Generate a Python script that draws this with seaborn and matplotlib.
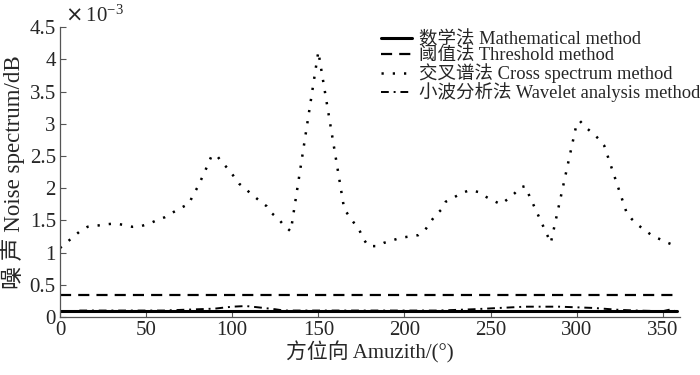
import seaborn as sns
import matplotlib.pyplot as plt
from matplotlib.ticker import FuncFormatter, MultipleLocator

# 数值单位: ×10^-3 dB
azimuth_math = [0, 90, 180, 270, 358]
noise_math = [0.095, 0.095, 0.095, 0.095, 0.095]

azimuth_thr = [0, 90, 180, 270, 358]
noise_thr = [0.34, 0.34, 0.34, 0.34, 0.34]

azimuth_cross = [0, 4, 8, 12, 16, 22, 27, 32, 37, 42, 47, 52, 56, 61, 66, 70, 75,
                 77, 80, 84, 88, 91, 94, 98, 101, 104, 108, 112, 116, 120, 123, 127,
                 130, 134, 150, 165, 168, 171, 174, 176, 179, 184, 188, 193, 198,
                 203, 208, 212, 215, 218, 222, 224, 229, 233, 238, 243, 247, 252,
                 256, 260, 264, 267, 270, 285, 300, 302, 305, 309, 313, 316, 329,
                 332, 336, 340, 344, 349, 353, 358]
noise_cross = [1.07, 1.16, 1.25, 1.34, 1.40, 1.42, 1.44, 1.45, 1.43, 1.40, 1.41,
               1.45, 1.50, 1.55, 1.63, 1.69, 1.76, 1.88, 2.02, 2.25, 2.50, 2.51,
               2.40, 2.29, 2.18, 2.07, 1.98, 1.89, 1.80, 1.72, 1.61, 1.52, 1.42,
               1.33, 4.12, 1.68, 1.56, 1.45, 1.34, 1.22, 1.10, 1.10, 1.15, 1.19,
               1.23, 1.25, 1.27, 1.35, 1.47, 1.58, 1.68, 1.79, 1.86, 1.92, 1.97,
               1.94, 1.87, 1.80, 1.75, 1.83, 1.92, 2.01, 2.03, 1.15, 3.00, 3.04,
               2.95, 2.86, 2.76, 2.66, 1.62, 1.52, 1.42, 1.34, 1.26, 1.20, 1.15,
               1.10]

azimuth_wav = [0, 5, 10, 20, 40, 60, 70, 80, 90, 100, 108, 115, 125, 130, 150,
               200, 220, 240, 255, 270, 290, 310, 325, 335, 350, 355, 358]
noise_wav = [0.09, 0.08, 0.10, 0.10, 0.10, 0.10, 0.11, 0.12, 0.13, 0.16, 0.17,
             0.15, 0.12, 0.10, 0.10, 0.10, 0.10, 0.12, 0.14, 0.16, 0.16, 0.14,
             0.11, 0.10, 0.09, 0.12, 0.08]

labels = ['数学法 Mathematical method', '阈值法 Threshold method',
          '交叉谱法 Cross spectrum method', '小波分析法 Wavelet analysis method']

sns.set_style('ticks')
plt.rcParams['font.family'] = ['Liberation Serif', 'Noto Sans CJK SC']

fig = plt.figure(figsize=(7, 3.75), dpi=100)
ax = fig.add_axes([0.0857, 0.1547, 0.8857, 0.773])

sns.lineplot(x=azimuth_math, y=noise_math, ax=ax, color='black', lw=2.2,
             label=labels[0])
sns.lineplot(x=azimuth_thr, y=noise_thr, ax=ax, color='black', lw=1.6,
             linestyle=(0, (5, 3.2)), label=labels[1])
sns.lineplot(x=azimuth_cross, y=noise_cross, ax=ax, color='black', lw=1.8,
             linestyle=(0, (0.9, 3.6)), label=labels[2])
sns.lineplot(x=azimuth_wav, y=noise_wav, ax=ax, color='black', lw=1.4,
             linestyle=(0, (4, 2.5, 1, 2.5)), label=labels[3])

ax.set_xlim(0, 360)
ax.set_ylim(0, 4.5)
ax.xaxis.set_major_locator(MultipleLocator(50))
ax.yaxis.set_major_locator(MultipleLocator(0.5))
ax.yaxis.set_major_formatter(FuncFormatter(lambda v, _: f'{v:g}'))
ax.tick_params(direction='in', length=4, width=0.8, color='#555555',
               labelsize=15, pad=3)
sns.despine(ax=ax)
for s in ['left', 'bottom']:
    ax.spines[s].set_color('#555555')
    ax.spines[s].set_linewidth(0.9)

ax.set_xlabel('方位向 Amuzith/(°)', fontsize=15, labelpad=1)
ax.set_ylabel('噪 声 Noise spectrum/dB', fontsize=16.5, labelpad=3)
ax.text(0.008, 1.02, r'$\times\,\mathregular{10^{-3}}$', transform=ax.transAxes,
        fontsize=15, ha='left', va='baseline')

ax.legend(loc='upper right', bbox_to_anchor=(1.0, 0.918),
          bbox_transform=fig.transFigure, frameon=False, fontsize=13.3,
          handlelength=1.7, handletextpad=0.35, labelspacing=-0.05,
          borderpad=0, borderaxespad=0)

fig.savefig('out.png', dpi=100)
